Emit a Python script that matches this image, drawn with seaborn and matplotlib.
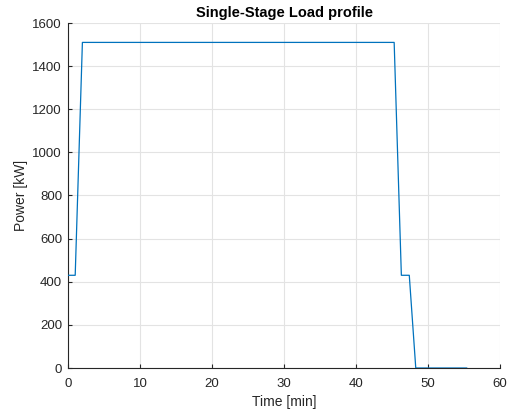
import matplotlib
matplotlib.use("Agg")
import matplotlib.pyplot as plt
import seaborn as sns
import pandas as pd

time_min = [0, 1.0, 2.0, 45.3, 46.3, 47.4, 48.3, 55.4]
power_kw = [430, 430, 1510, 1510, 430, 430, 0, 0]

sns.set_theme(style="whitegrid")
plt.rcParams['font.family'] = ['Liberation Sans', 'DejaVu Sans']

df = pd.DataFrame({"Time [min]": time_min, "Power [kW]": power_kw})

fig = plt.figure(figsize=(5.09, 4.11), dpi=100)
ax = fig.add_axes([68/509, 1-368/411, (500-68)/509, (368-23)/411])
sns.lineplot(data=df, x="Time [min]", y="Power [kW]", ax=ax, color="#0072BD", linewidth=0.9, sort=False, zorder=3)

ax.set_xlim(0, 60)
ax.set_ylim(0, 1600)
ax.set_xticks(range(0, 61, 10))
ax.set_yticks(range(0, 1601, 200))
ax.grid(True, color="#E3E3E3", linewidth=0.8)
ax.set_facecolor("white")
for s in ["top", "right"]:
    ax.spines[s].set_visible(False)
for s in ["left", "bottom"]:
    ax.spines[s].set_visible(True)
    ax.spines[s].set_color("#262626")
    ax.spines[s].set_linewidth(0.8)
ax.tick_params(direction="in", length=3, width=0.8, colors="#262626", labelsize=9.5,
               bottom=True, left=True, labelcolor="#262626")
ax.tick_params(axis="x", pad=7)
ax.tick_params(axis="y", pad=4.3)
ax.set_xlabel("Time [min]", fontsize=10, color="#262626", labelpad=4)
ax.set_ylabel("Power [kW]", fontsize=10, color="#262626", labelpad=3)
ax.set_title("Single-Stage Load profile", fontsize=10.5, fontweight="bold", color="black", pad=4)

fig.savefig("out.png", dpi=100)
